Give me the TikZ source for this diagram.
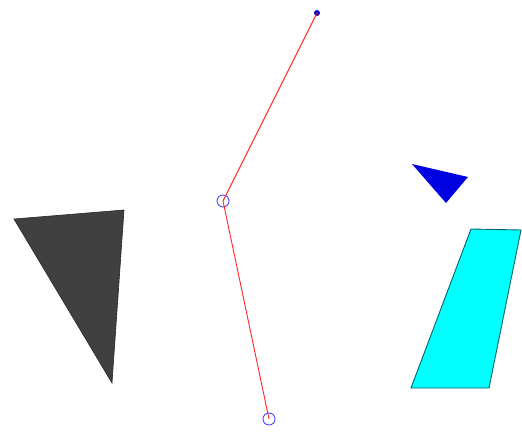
\documentclass[tikz,border=0pt]{standalone}
\definecolor{aqua}{RGB}{0,255,255}
\definecolor{darkfill}{RGB}{64,64,64}
\definecolor{bluefill}{RGB}{0,0,225}
\begin{document}
\begin{tikzpicture}[x=1pt,y=-1pt,
  redline/.style={draw=red!85!white, line width=0.9pt},
  hollow/.style={draw=blue!70!white, line width=0.9pt, circle, minimum size=12pt, inner sep=0pt},
  dotpt/.style={fill=blue!80!black, circle, minimum size=6pt, inner sep=0pt}]
\useasboundingbox (0,0) rectangle (522,433);
\fill[white] (0,0) rectangle (522,433);
% dark triangle
\fill[darkfill, draw=black!85, line width=0.6pt] (14,219) -- (124,210) -- (112,383) -- cycle;
% blue triangle
\fill[bluefill] (412,164) -- (468,177) -- (446,203) -- cycle;
% cyan quad
\filldraw[fill=aqua, draw=black!60!aqua, line width=0.9pt] (471,229) -- (521,230) -- (489,388) -- (411,388) -- cycle;
% polyline
\node[dotpt] (p0) at (317,13) {};
\node[hollow] (p1) at (223,201) {};
\node[hollow] (p2) at (269,419) {};
\draw[redline] (p0.center) -- (p1.center) -- (p2.center);
\end{tikzpicture}
\end{document}
